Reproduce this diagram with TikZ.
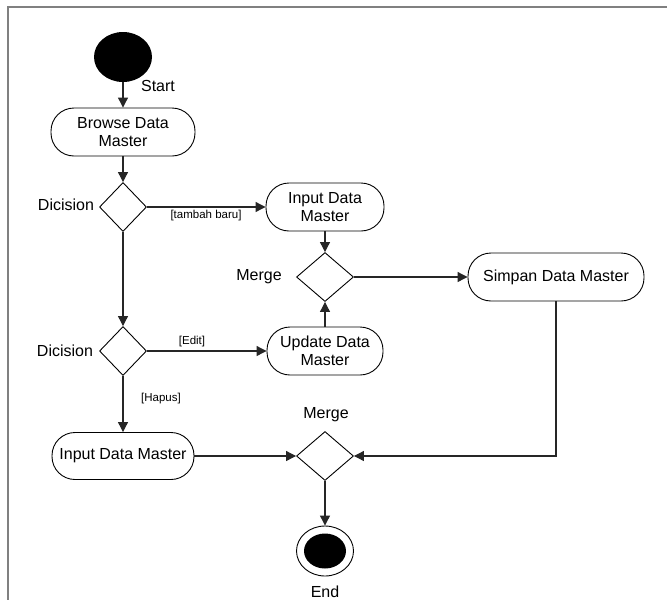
\documentclass[tikz,border=0pt]{standalone}
\usepackage{fontspec}
\setmainfont{Liberation Sans}
\usetikzlibrary{shapes.geometric,arrows.meta}
\begin{document}
\begin{tikzpicture}[x=1pt,y=-1pt,
  font=\fontsize{16}{18}\selectfont,
  activity/.style={draw=black,line width=0.9pt,rectangle,rounded corners=23pt,
    minimum height=48pt,align=center,inner sep=2pt},
  choice/.style={draw=black,line width=0.9pt,diamond,inner sep=0pt,aspect=1},
  flow/.style={draw=black!85,line width=1.1pt,-{Triangle[length=10pt,width=10pt]}},
  guard/.style={font=\fontsize{11.5}{13}\selectfont},
  caption/.style={inner sep=0pt}]
\useasboundingbox (0,0) rectangle (667,600);
% frame
\draw[gray,line width=2pt] (8,600) -- (8,7) -- (667,7);

% initial node
\node[ellipse,fill=black,minimum width=58pt,minimum height=50pt,inner sep=0pt] (start) at (123,57) {};
\node[caption] (startlbl) at (158,86) {Start};

\node[activity,minimum width=144pt] (browse) at (123,132) {Browse Data\\Master};
\node[choice,minimum width=47pt,minimum height=49pt] (d1) at (123,207) {};
\node[caption] (d1lbl) at (66,205) {Dicision};

\node[activity,minimum width=118pt] (inputA) at (325,207) {Input Data\\Master};
\node[choice,minimum width=57pt,minimum height=49pt] (m1) at (325,277) {};
\node[caption] (m1lbl) at (259,277) {Merge};
\node[activity,minimum width=176pt] (simpan) at (556,277) {Simpan Data Master};
\node[activity,minimum width=116pt] (update) at (325,351) {Update Data\\Master};

\node[choice,minimum width=47pt,minimum height=49pt] (d2) at (123,351) {};
\node[caption] (d2lbl) at (65,351) {Dicision};

\node[activity,minimum width=142pt,minimum height=47pt] (inputB) at (123,456) {Input Data Master};
\node[choice,minimum width=57pt,minimum height=49pt] (m2) at (325,456) {};
\node[caption] (m2lbl) at (326,415) {Merge};

% final node
\node[ellipse,draw=black,line width=0.9pt,minimum width=57pt,minimum height=50pt,inner sep=0pt] (final) at (325,551) {};
\node[ellipse,fill=black,minimum width=42pt,minimum height=35pt,inner sep=0pt] (finaldot) at (325,551) {};
\node[caption] (endlbl) at (325,592) {End};

% guards
\node[guard,caption] (gTambah) at (206,216) {[tambah baru]};
\node[guard,caption] (gEdit) at (192,342) {[Edit]};
\node[guard,caption] (gHapus) at (161,399) {[Hapus]};

% control flows
\draw[flow] (start) -- (browse);
\draw[flow] (browse) -- (d1);
\draw[flow] (d1.east) -- (inputA.west);
\draw[flow] (inputA) -- (m1);
\draw[flow] (m1.east) -- (simpan.west);
\draw[flow] (d1.south) -- (d2.north);
\draw[flow] (d2.east) -- (update.west);
\draw[flow] (update.north) -- (m1.south);
\draw[flow] (d2.south) -- (inputB.north);
\draw[flow] (inputB.east) -- (m2.west);
\draw[flow] (simpan.south) |- (m2.east);
\draw[flow] (m2.south) -- (final.north);
\end{tikzpicture}
\end{document}
